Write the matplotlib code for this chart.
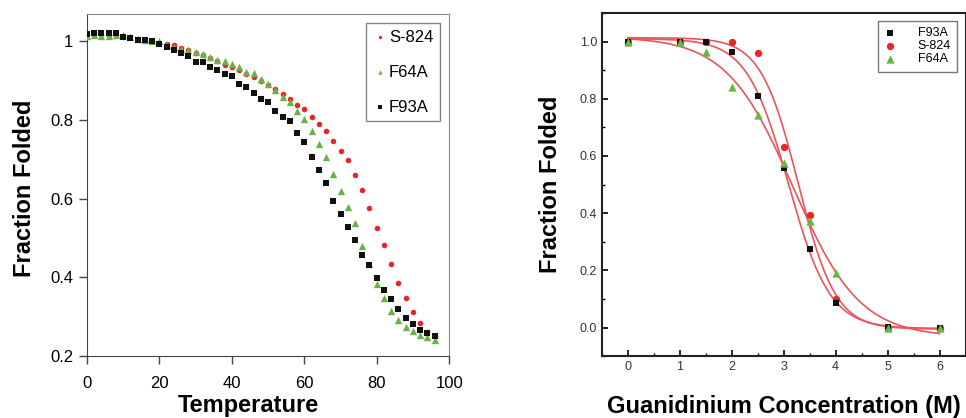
import numpy as np
import matplotlib
matplotlib.use("Agg")
import matplotlib.pyplot as plt
from matplotlib.ticker import MultipleLocator

plt.rcParams['font.family'] = ['Liberation Sans', 'DejaVu Sans']

# thermal melt (left panel), points every 2 degrees
temperature = list(range(0, 98, 2))
s824_temp = [1.015, 1.02, 1.018, 1.017, 1.015, 1.012, 1.01, 1.005, 1.002, 1.0,
             0.997, 0.993, 0.99, 0.983, 0.978, 0.971, 0.965, 0.958, 0.95, 0.94,
             0.934, 0.926, 0.918, 0.91, 0.9, 0.889, 0.878, 0.867, 0.853, 0.839,
             0.828, 0.807, 0.789, 0.771, 0.747, 0.722, 0.699, 0.661, 0.622, 0.577,
             0.526, 0.482, 0.433, 0.385, 0.347, 0.311, 0.283, 0.262, 0.252]
f64a_temp = [1.014, 1.017, 1.013, 1.013, 1.015, 1.017, 1.012, 1.006, 1.003, 1.001,
             1.0, 0.99, 0.985, 0.98, 0.977, 0.972, 0.968, 0.96, 0.952, 0.95,
             0.942, 0.936, 0.922, 0.919, 0.905, 0.891, 0.877, 0.858, 0.845, 0.824,
             0.802, 0.773, 0.739, 0.705, 0.662, 0.62, 0.578, 0.538, 0.48, 0.434,
             0.383, 0.347, 0.315, 0.292, 0.275, 0.264, 0.253, 0.249, 0.241]
f93a_temp = [1.019, 1.021, 1.02, 1.022, 1.02, 1.01, 1.009, 1.003, 1.003, 1.0,
             0.993, 0.986, 0.978, 0.97, 0.963, 0.948, 0.948, 0.935, 0.926, 0.916,
             0.913, 0.891, 0.884, 0.868, 0.853, 0.845, 0.824, 0.807, 0.797, 0.767,
             0.743, 0.706, 0.672, 0.639, 0.595, 0.56, 0.528, 0.496, 0.458, 0.432,
             0.398, 0.368, 0.344, 0.319, 0.296, 0.281, 0.266, 0.259, 0.252]
left_yticks = [0.2, 0.4, 0.6, 0.8, 1.0]
left_yticklabels = ["0.2", "0.4", "0.6", "0.8", "1"]

# guanidinium titration (right panel)
gdn = [0, 1, 1.5, 2, 2.5, 3, 3.5, 4, 5, 6]
f93a_gdn = [1.0, 1.0, 1.0, 0.962, 0.81, 0.557, 0.275, 0.086, 0.002, 0.0]
s824_gdn = [1.0, 1.0, 1.0, 1.0, 0.961, 0.632, 0.392, 0.1, 0.0, 0.0]
f64a_gdn = [1.0, 1.0, 0.963, 0.842, 0.743, 0.574, 0.371, 0.191, 0.0, 0.0]


# boltzmann fit: grid over midpoint/width, linear lstsq for the plateaus
def boltzmann_fit(x, y):
    x = np.array(x, dtype=float)
    y = np.array(y, dtype=float)
    best = None
    for x0 in np.arange(2.0, 4.5, 0.01):
        for dx in np.arange(0.08, 1.2, 0.01):
            f = 1.0 / (1.0 + np.exp((x - x0) / dx))
            A = np.column_stack([np.ones_like(f), f])
            coef = np.linalg.lstsq(A, y, rcond=None)[0]
            r = np.sum((A @ coef - y) ** 2)
            if best is None or r < best[0]:
                best = (r, x0, dx, coef)
    _, x0, dx, coef = best
    xs = np.linspace(0, 6, 300)
    return xs, coef[0] + coef[1] / (1.0 + np.exp((xs - x0) / dx))


fig = plt.figure(figsize=(9.66, 4.18), dpi=100)

# ---- left panel
ax1 = fig.add_axes([0.090, 0.148, 0.375, 0.819])
ax1.scatter(temperature, s824_temp, marker='o', s=16, color='#e8262a', linewidths=0, label='S-824', zorder=3)
ax1.scatter(temperature, f64a_temp, marker='^', s=28, color='#6cb048', linewidths=0, label='F64A', zorder=4)
ax1.scatter(temperature, f93a_temp, marker='s', s=24, color='#111111', linewidths=0, label='F93A', zorder=5)
ax1.set_xlim(0, 100)
ax1.set_ylim(0.2, 1.07)
ax1.set_xticks([0, 20, 40, 60, 80, 100])
ax1.set_yticks(left_yticks)
ax1.set_yticklabels(left_yticklabels)
ax1.tick_params(direction='out', length=6, width=1, labelsize=12, color='#444444')
ax1.tick_params(axis='x', pad=8.5)
ax1.tick_params(axis='y', pad=4)
for side in ['left', 'bottom']:
    ax1.spines[side].set_color('#444444')
for side in ['top', 'right']:
    ax1.spines[side].set_color('#888888')
ax1.set_xlabel('Temperature', fontsize=17, fontweight='bold')
ax1.set_ylabel('Fraction Folded', fontsize=17, fontweight='bold')
ax1.xaxis.set_label_coords(0.446, -0.112)
ax1.yaxis.set_label_coords(-0.14, 0.49)
leg1 = ax1.legend(loc='upper right', fontsize=12, labelspacing=1.2, handletextpad=0.1,
                  handlelength=0.9, markerscale=0.6, borderaxespad=0.55,
                  frameon=True, fancybox=False, edgecolor='#666666')
leg1.get_frame().set_linewidth(1)

# ---- right panel
ax2 = fig.add_axes([0.623, 0.148, 0.3765, 0.821])
for yy in [f93a_gdn, s824_gdn, f64a_gdn]:
    xs, ys = boltzmann_fit(gdn, yy)
    ax2.plot(xs, ys, color='#e8555a', lw=1.2, zorder=2)
ax2.scatter(gdn, f93a_gdn, marker='s', s=22, color='#111111', linewidths=0, label='F93A', zorder=4)
ax2.scatter(gdn, s824_gdn, marker='o', s=28, color='#e8262a', linewidths=0, label='S-824', zorder=3)
ax2.scatter(gdn, f64a_gdn, marker='^', s=36, color='#66b844', linewidths=0, label='F64A', zorder=5)
ax2.set_xlim(-0.5, 6.5)
ax2.set_ylim(-0.1, 1.1)
ax2.xaxis.set_major_locator(MultipleLocator(1))
ax2.xaxis.set_minor_locator(MultipleLocator(0.5))
ax2.yaxis.set_major_locator(MultipleLocator(0.2))
ax2.yaxis.set_minor_locator(MultipleLocator(0.1))
ax2.yaxis.set_major_formatter(plt.FormatStrFormatter('%.1f'))
ax2.tick_params(which='major', direction='in', length=4, width=1.2, labelsize=9, labelcolor='#333333')
ax2.tick_params(which='minor', direction='in', length=2, width=1)
for side in ax2.spines:
    ax2.spines[side].set_linewidth(1.5)
    ax2.spines[side].set_color('#222222')
ax2.set_xlabel('Guanidinium Concentration (M)', fontsize=17, fontweight='bold')
ax2.set_ylabel('Fraction Folded', fontsize=17, fontweight='bold')
ax2.xaxis.set_label_coords(0.5, -0.112)
ax2.yaxis.set_label_coords(-0.11, 0.5)
leg2 = ax2.legend(loc='upper right', fontsize=9, labelspacing=0.08, handletextpad=1.7,
                  handlelength=1.0, borderpad=0.5, borderaxespad=0.65, frameon=True,
                  fancybox=False, edgecolor='#555555')
leg2.get_frame().set_linewidth(1)

fig.savefig('out.png', dpi=100)
